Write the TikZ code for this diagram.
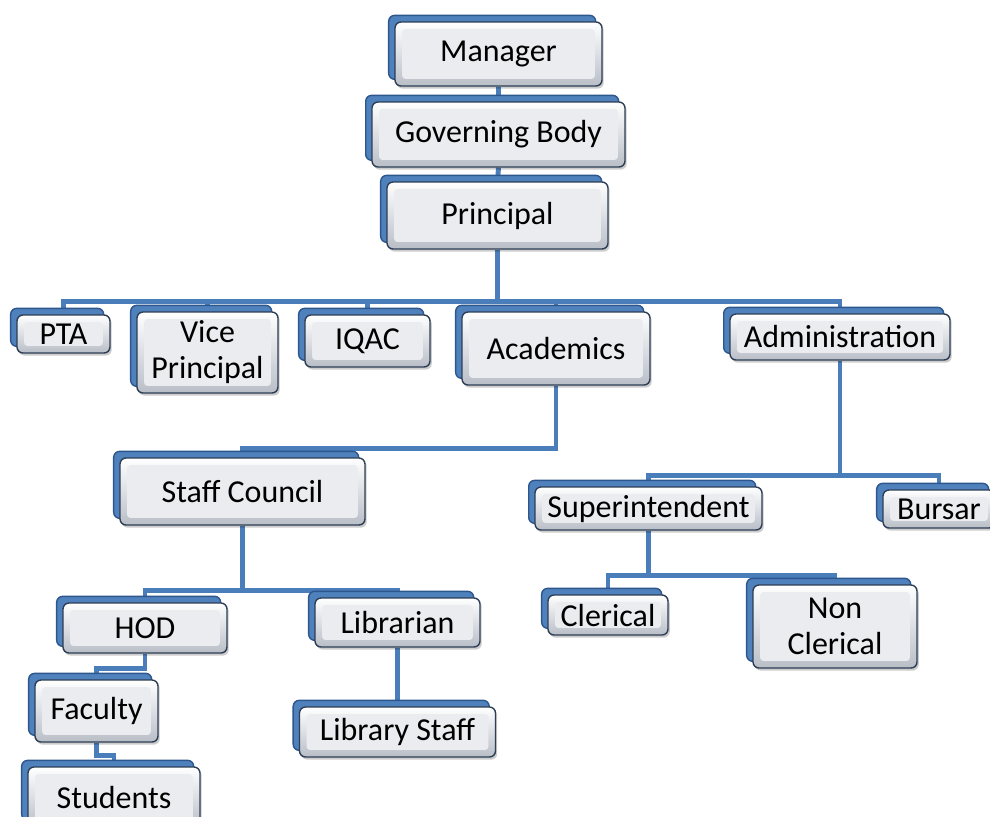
\documentclass[tikz,border=0pt]{standalone}
\usepackage{fontspec}
\setmainfont{Carlito}
\usetikzlibrary{shadows,backgrounds}
\definecolor{linkblue}{RGB}{74,126,187}
\definecolor{backblue}{RGB}{79,129,189}
\definecolor{backedge}{RGB}{44,86,140}
\definecolor{frameedge}{RGB}{45,62,86}
\definecolor{faceinner}{RGB}{234,236,240}
\definecolor{facelow}{RGB}{185,190,199}
\tikzset{
  unit/.style={draw=frameedge, line width=0.8pt, rounded corners=3.4pt,
    top color=white, bottom color=facelow, align=center, inner sep=0pt,
    font=\fontsize{18.2}{20.5}\selectfont,
    drop shadow={fill=black, opacity=0.2, shadow xshift=1pt, shadow yshift=-1.5pt},
    general shadow={fill=backblue, draw=backedge, line width=0.8pt, shadow xshift=-3.6pt, shadow yshift=3.8pt},
    path picture={\fill[faceinner, rounded corners=2pt]
      ([shift={(4pt,4pt)}]path picture bounding box.south west) rectangle
      ([shift={(-4pt,-4pt)}]path picture bounding box.north east);}},
  link/.style={linkblue, line width=2.8pt}
}
\begin{document}
\begin{tikzpicture}[x=0.02cm, y=-0.02cm]
  \useasboundingbox (0,0) rectangle (990,816);
  \foreach \bname/\bx/\by/\bw/\bh/\btext in {
      manager/498.5/54/4.14/1.28/Manager,
      govbody/498.5/134.5/5.06/1.30/Governing Body,
      principal/497.5/215.5/4.42/1.34/Principal,
      pta/63.5/334/1.86/0.76/PTA,
      viceprin/207.5/352.5/2.82/1.62/{Vice\\Principal},
      iqac/367.5/341/2.50/1.04/IQAC,
      academics/556/348.5/3.76/1.46/Academics,
      admin/840/337/4.40/0.92/Administration,
      staffcouncil/242.5/491.5/4.90/1.34/Staff Council,
      superint/648.5/508.5/4.54/0.86/Superintendent,
      bursar/939/509/2.24/0.76/Bursar,
      hod/145/628/3.28/1.00/HOD,
      librarian/397.5/622.5/3.30/0.98/Librarian,
      faculty/96.5/711/2.46/1.24/Faculty,
      students/114/797/3.44/1.20/Students,
      libstaff/397.5/732/3.92/1.00/Library Staff,
      clerical/608/615/2.40/0.80/Clerical,
      nonclerical/835/626.5/3.28/1.66/{Non\\Clerical}}{
    \node[unit, minimum width=\bw cm, minimum height=\bh cm] (\bname) at (\bx,\by) {\btext};
  }
  \begin{scope}[on background layer]
    \draw[link] (manager.south) -- (govbody.north);
    \draw[link] (govbody.south) -- (principal.north);
    \foreach \child in {pta,viceprin,iqac,academics,admin}
      \draw[link] (principal.south) -- ++(0,52) -| (\child.north);
    \draw[link] (academics.south) -- ++(0,63) -| (staffcouncil.north);
    \foreach \child in {superint,bursar}
      \draw[link] (admin.south) -- ++(0,115) -| (\child.north);
    \foreach \child in {hod,librarian}
      \draw[link] (staffcouncil.south) -- ++(0,65) -| (\child.north);
    \draw[link] (hod.south) -- ++(0,15) -| (faculty.north);
    \draw[link] (faculty.south) -- ++(0,13) -| (students.north);
    \draw[link] (librarian.south) -- (libstaff.north);
    \foreach \child in {clerical,nonclerical}
      \draw[link] (superint.south) -- ++(0,45) -| (\child.north);
  \end{scope}
\end{tikzpicture}
\end{document}
